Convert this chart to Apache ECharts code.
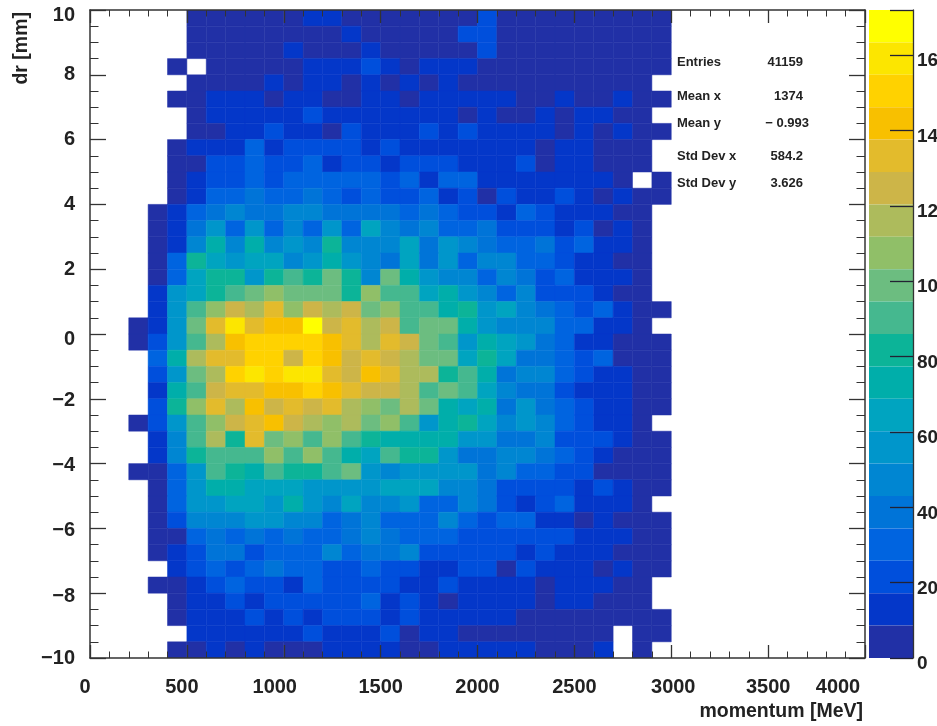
<!DOCTYPE html>
<html><head><meta charset="utf-8">
<script src="https://cdn.jsdelivr.net/npm/echarts@6/dist/echarts.min.js"></script>
<style>html,body{margin:0;padding:0;background:#fff}#c{width:937px;height:726px}</style>
</head><body><div id="c"></div>
<script>
const _ = null;
const momentumBins = [200,300,400,500,600,700,800,900,1000,1100,1200,1300,1400,1500,1600,1700,1800,1900,2000,2100,2200,2300,2400,2500,2600,2700,2800,2900];
const r00=[_,_,_,4,4,4,4,4,4,13,13,4,4,4,4,4,4,4,21,4,4,4,4,4,4,4,4,4];
const r01=[_,_,_,4,4,4,4,4,4,4,4,13,4,4,4,4,4,21,21,4,4,4,4,4,4,4,4,4];
const r02=[_,_,_,4,4,4,4,4,13,4,4,4,13,4,4,4,4,4,21,4,4,4,4,4,4,4,4,4];
const r03=[_,_,4,_,4,4,4,4,4,13,13,13,21,13,4,13,13,13,4,4,4,4,4,4,4,4,4,4];
const r04=[_,_,_,4,4,4,4,13,4,13,13,4,13,4,13,4,13,4,4,4,4,4,4,4,4,4,4,_];
const r05=[_,_,4,4,13,13,13,4,13,13,4,4,13,13,4,13,13,13,13,13,4,4,13,4,4,13,4,4];
const r06=[_,_,_,4,13,13,13,13,13,21,13,13,13,13,13,13,13,4,13,4,4,13,4,13,13,4,4,_];
const r07=[_,_,_,4,4,13,13,21,13,13,4,21,13,13,13,21,13,21,13,13,13,13,4,13,4,13,4,4];
const r08=[_,_,4,13,13,13,30,13,21,21,21,21,13,21,13,13,13,13,13,13,13,4,13,13,4,4,4,_];
const r09=[_,_,4,4,21,21,30,21,21,30,13,21,21,13,21,21,21,13,13,13,21,4,13,13,4,4,4,_];
const r10=[_,_,4,13,21,21,30,21,30,30,30,30,30,21,30,13,30,30,13,13,13,13,13,13,13,4,_,4];
const r11=[_,_,4,13,30,30,39,30,30,39,30,21,30,21,21,30,13,21,4,21,13,13,21,13,4,13,4,4];
const r12=[_,4,13,30,39,47,39,39,47,47,39,39,39,39,30,39,30,21,21,13,30,21,13,13,13,4,4,_];
const r13=[_,4,13,39,56,30,56,30,47,30,56,30,64,47,39,47,30,30,39,21,21,21,13,21,4,13,4,_];
const r14=[_,4,13,47,73,47,73,47,56,47,82,47,47,47,64,39,56,47,39,30,30,39,21,30,13,13,4,_];
const r15=[_,4,30,82,64,56,64,64,47,56,73,56,47,39,64,39,56,30,47,47,30,30,21,13,13,4,4,_];
const r16=[_,4,30,64,82,82,56,82,90,82,99,82,47,99,73,56,47,47,30,47,39,21,30,13,13,13,4,_];
const r17=[_,13,56,64,82,90,99,107,99,99,99,82,107,90,90,64,73,56,47,30,47,21,21,21,13,4,4,_];
const r18=[_,13,56,90,107,125,116,133,107,125,116,125,99,107,90,90,73,82,56,64,47,39,30,21,30,13,4,4];
const r19=[4,13,56,99,133,159,133,142,142,168,125,133,116,125,90,99,99,73,56,47,47,47,30,30,13,13,4,_];
const r20=[4,21,56,90,116,142,150,150,150,150,142,133,116,133,125,99,90,56,73,64,56,39,30,13,13,4,4,4];
const r21=[_,30,73,116,133,133,150,150,125,150,142,125,133,125,116,99,99,64,82,64,39,39,30,21,30,4,4,4];
const r22=[_,21,56,99,116,150,159,150,159,159,133,125,142,133,116,116,82,90,73,39,47,47,30,21,13,13,4,4];
const r23=[_,13,73,90,125,133,133,142,142,150,142,133,125,125,116,90,99,90,64,47,39,39,21,13,13,13,4,4];
const r24=[_,21,82,107,133,116,142,125,133,125,133,116,107,99,116,99,73,64,73,39,56,39,30,21,13,13,4,4];
const r25=[4,21,56,90,107,125,133,142,125,116,107,116,99,107,90,56,73,82,64,47,56,47,30,21,13,13,4,_];
const r26=[_,13,47,90,116,82,133,99,107,90,107,90,82,73,73,73,73,56,56,39,39,47,21,21,21,13,4,4];
const r27=[_,13,47,82,90,90,90,107,90,107,90,73,64,90,82,82,56,39,39,47,47,39,30,21,13,4,4,4];
const r28=[4,4,30,56,90,82,73,90,82,82,90,99,56,47,56,56,56,56,39,47,30,30,21,21,4,4,4,4];
const r29=[_,4,30,56,73,73,64,64,64,56,56,56,56,64,64,64,47,47,39,21,21,21,21,13,21,13,4,4];
const r30=[_,4,30,56,56,64,64,56,73,56,47,64,47,47,56,30,30,47,39,21,13,21,30,13,13,13,4,_];
const r31=[_,4,21,47,47,47,56,56,47,47,30,39,47,30,30,30,47,30,21,30,30,13,13,4,13,4,4,4];
const r32=[_,4,4,30,39,30,39,30,39,30,30,39,47,39,30,30,30,21,21,21,21,21,21,13,13,13,4,4];
const r33=[_,4,13,21,39,39,21,30,30,30,47,30,39,39,47,21,21,21,21,21,13,21,13,13,13,4,4,4];
const r34=[_,_,13,21,30,21,30,39,30,30,21,21,30,21,21,13,13,21,21,4,21,13,13,13,4,13,4,4];
const r35=[_,4,4,13,21,30,21,21,13,30,21,21,21,21,13,13,21,13,13,13,13,4,13,13,13,4,4,_];
const r36=[_,_,4,13,13,21,13,21,21,21,21,21,30,13,21,13,4,13,13,13,13,4,13,13,4,4,4,_];
const r37=[_,_,4,13,13,13,21,13,21,13,21,21,21,13,21,13,13,13,13,13,4,4,4,4,4,4,4,4];
const r38=[_,_,_,13,13,13,13,13,13,21,13,13,13,21,4,13,13,4,4,4,4,4,4,4,4,_,4,4];
const r39=[_,_,4,4,13,4,13,4,4,4,13,13,13,13,4,4,13,13,13,13,13,4,4,4,13,_,4,_];
const rowsTopDown=[r00,r01,r02,r03,r04,r05,r06,r07,r08,r09,r10,r11,r12,r13,r14,r15,r16,r17,r18,r19,r20,r21,r22,r23,r24,r25,r26,r27,r28,r29,r30,r31,r32,r33,r34,r35,r36,r37,r38,r39];
const palette=['#2130a6','#0437c9','#004fdc','#0064e0','#0074d8','#0086d2','#0096cb','#00a4c0','#00aeaa','#0cb498','#45b88f','#6cbd80','#90bf68','#adbb5c','#cdb548','#e3bb2c','#f8c000','#ffd200','#fce600','#ffff00'];
const zMax=172;
const zTickLabels={0:'0',20:'20',40:'40',60:'60',80:'80',100:'10',120:'12',140:'14',160:'16'};
const statNames=['Entries','Mean x','Mean y','Std Dev x','Std Dev y'];
const statValues=['41159','1374','\u2212 0.993','584.2','3.626'];
const statY=[63,97,124,157,184];
const statRight=[803,803,809,803,803];
const xLabelShift={0:5,500:5,1000:9,1500:0,2000:0,2500:0,3000:-2,3500:0,4000:27};
const yLabelDown={10:5,0:5,'-2':2,'-4':2,'-6':2,'-8':3};

const cells=[];
rowsTopDown.forEach((row,i)=>{row.forEach((v,j)=>{if(v!==null)cells.push([momentumBins[j],10-(i+1)*0.5,v]);});});
const step=zMax/palette.length;
const pieces=palette.map((c,k)=>({gte:k*step,lt:(k+1)*step,color:c}));
const font='"Liberation Sans",Arial,sans-serif';
const axisCol='#333';
const xRich={};Object.keys(xLabelShift).forEach(k=>{const d=xLabelShift[k];xRich['x'+k]={fontFamily:font,fontWeight:'bold',fontSize:20,color:'#222',padding:d>=0?[0,2*d,0,0]:[0,0,0,-2*d]};});
const yRich={};for(let v=-10;v<=10;v+=2){yRich['y'+(v<0?'m'+(-v):v)]={fontFamily:font,fontWeight:'bold',fontSize:20,color:'#222',padding:[2*(yLabelDown[v]||0),0,0,0]};}
const zRich={z:{fontFamily:font,fontWeight:'bold',fontSize:19,color:'#222',padding:[12,0,0,0]}};

const graphics=[];
statNames.forEach((n,i)=>{
 graphics.push({type:'text',left:677,top:statY[i]-7,z:20,style:{text:n,font:'bold 13px '+font,fill:'#222'}});
 graphics.push({type:'text',right:937-statRight[i],top:statY[i]-7,z:20,style:{text:statValues[i],font:'bold 13px '+font,fill:'#222'}});
});

const chart=echarts.init(document.getElementById('c'),null,{renderer:'canvas'});
chart.setOption({
 animation:false,backgroundColor:'#fff',
 grid:[{left:90,top:10,width:775,height:648,outerBoundsMode:'none'},{left:869,top:10,width:44,height:648,outerBoundsMode:'none'}],
 xAxis:[
  {gridIndex:0,type:'value',min:0,max:4000,interval:500,position:'bottom',z:10,
   name:'momentum [MeV]',nameLocation:'end',nameGap:-2,
   nameTextStyle:{fontFamily:font,fontWeight:'bold',fontSize:19.5,color:'#222',align:'right',verticalAlign:'top',padding:[44,0,0,0]},
   splitLine:{show:false},axisLine:{show:true,onZero:false,lineStyle:{color:axisCol,width:1.5}},
   axisTick:{show:true,inside:true,length:13,lineStyle:{color:axisCol,width:1.3}},
   minorTick:{show:true,splitNumber:5,length:6.5,lineStyle:{color:axisCol,width:1}},
   axisLabel:{margin:19,hideOverlap:false,showMinLabel:true,showMaxLabel:true,formatter:v=>'{x'+v+'|'+v+'}',rich:xRich}},
  {gridIndex:0,type:'value',min:0,max:4000,interval:500,position:'top',z:10,
   splitLine:{show:false},axisLine:{show:true,onZero:false,lineStyle:{color:axisCol,width:1.5}},
   axisTick:{show:true,inside:true,length:13,lineStyle:{color:axisCol,width:1.3}},
   minorTick:{show:true,splitNumber:5,length:6.5,lineStyle:{color:axisCol,width:1}},axisLabel:{show:false}},
  {gridIndex:1,type:'value',min:0,max:1,show:false}
 ],
 yAxis:[
  {gridIndex:0,type:'value',min:-10,max:10,interval:2,position:'left',z:10,
   name:'dr [mm]',nameLocation:'end',nameGap:-2,nameRotate:90,nameMoveOverlap:false,
   nameTextStyle:{fontFamily:font,fontWeight:'bold',fontSize:19.5,color:'#222',align:'right',verticalAlign:'bottom',padding:[0,0,58,0]},
   splitLine:{show:false},axisLine:{show:true,onZero:false,lineStyle:{color:axisCol,width:1.5}},
   axisTick:{show:true,inside:true,length:16,lineStyle:{color:axisCol,width:1.3}},
   minorTick:{show:true,splitNumber:4,length:8.5,lineStyle:{color:axisCol,width:1}},
   axisLabel:{margin:15,hideOverlap:false,showMinLabel:true,showMaxLabel:true,formatter:v=>'{y'+(v<0?'m'+(-v):v)+'|'+String(v).replace('-','\u2212')+'}',rich:yRich}},
  {gridIndex:0,type:'value',min:-10,max:10,interval:2,position:'right',z:10,
   splitLine:{show:false},axisLine:{show:true,onZero:false,lineStyle:{color:axisCol,width:1.5}},
   axisTick:{show:true,inside:true,length:16,lineStyle:{color:axisCol,width:1.3}},
   minorTick:{show:true,splitNumber:4,length:8.5,lineStyle:{color:axisCol,width:1}},axisLabel:{show:false}},
  {gridIndex:1,type:'value',min:0,max:zMax,interval:20,position:'right',z:10,
   splitLine:{show:false},axisLine:{show:true,onZero:false,lineStyle:{color:axisCol,width:1.3}},
   axisTick:{show:true,inside:true,length:23,lineStyle:{color:'#223',width:1.3}},
   axisLabel:{margin:4,showMinLabel:true,formatter:v=>zTickLabels[v]?'{z|'+zTickLabels[v]+'}':'',rich:zRich}}
 ],
 visualMap:{type:'piecewise',seriesIndex:0,dimension:2,pieces:pieces,orient:'vertical',left:869,top:10,itemWidth:44,itemHeight:32.4,itemGap:0,showLabel:false,hoverLink:false,selectedMode:false,padding:0,z:2,itemSymbol:'rect',textGap:0},
 series:[{type:'custom',xAxisIndex:0,yAxisIndex:0,data:cells,encode:{x:0,y:1},clip:true,z:3,
  renderItem:(params,api)=>{
   const x=api.value(0),y=api.value(1);
   const a=api.coord([x,y]),b=api.coord([x+100,y+0.5]);
   const col=api.visual('color');
   return {type:'rect',shape:{x:a[0],y:b[1],width:b[0]-a[0],height:a[1]-b[1]},style:{fill:col,stroke:col,lineWidth:0.5}};
  }}],
 graphic:graphics
});
</script></body></html>
